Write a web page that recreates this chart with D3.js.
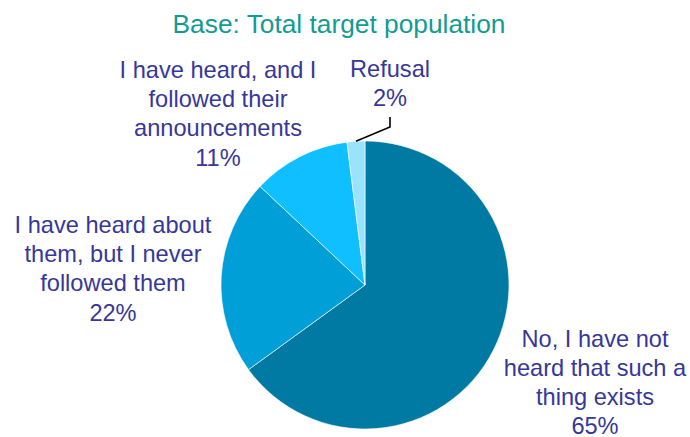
<!DOCTYPE html>
<html>
<head>
<meta charset="utf-8">
<script src="https://cdn.jsdelivr.net/npm/d3@7"></script>
<style>
  html, body { margin: 0; padding: 0; background: #fff; }
  svg { display: block; font-family: "Liberation Sans", Arial, sans-serif; }
</style>
</head>
<body>
<svg id="chart" width="690" height="437"></svg>
<script>
// Survey answers, clockwise from 12 o'clock
const categories = [
  "No, I have not heard that such a thing exists",
  "I have heard about them, but I never followed them",
  "I have heard, and I followed their announcements",
  "Refusal"
];
const values = [65, 22, 11, 2];
const colors = ["#0079A3", "#009FD7", "#10BFFF", "#99E3FF"];
// Wrapped label lines for each slice
const labelLines = [
  ["No, I have not", "heard that such a", "thing exists"],
  ["I have heard about", "them, but I never", "followed them"],
  ["I have heard, and I", "followed their", "announcements"],
  ["Refusal"]
];
const title = "Base: Total target population";

const svg = d3.select("#chart");
const cx = 365, cy = 285, radius = 144;
const lineH = 29.2;

svg.append("text")
  .attr("x", 339).attr("y", 33)
  .attr("text-anchor", "middle")
  .attr("fill", "#139B93")
  .attr("font-size", 26.3)
  .text(title);

const data = categories.map((c, i) => ({ name: c, value: values[i], color: colors[i], lines: labelLines[i] }));
const pie = d3.pie().sort(null).value(d => d.value);
const arcs = pie(data);
const arc = d3.arc().innerRadius(0).outerRadius(radius);

const g = svg.append("g").attr("transform", `translate(${cx},${cy})`);
g.selectAll("path.slice")
  .data(arcs)
  .join("path")
  .attr("class", "slice")
  .attr("d", arc)
  .attr("fill", d => d.data.color)
  .attr("stroke", "#ffffff")
  .attr("stroke-width", 0.6);

// Label anchor points (centre x, first baseline y) in page coordinates
const labelPos = [
  { x: 595, y: 346.5 },
  { x: 113, y: 233 },
  { x: 218, y: 78 },
  { x: 390, y: 77 }
];

const labels = svg.append("g").attr("fill", "#37379A").attr("font-size", 23.6).attr("text-anchor", "middle");
arcs.forEach((a, i) => {
  const p = labelPos[i];
  const t = labels.append("text").attr("x", p.x).attr("y", p.y);
  const lines = a.data.lines.concat([d3.format(".0f")(a.data.value) + "%"]);
  lines.forEach((ln, j) => {
    t.append("tspan").attr("x", p.x).attr("y", p.y + j * lineH).text(ln);
  });
});

// Leader line for the small Refusal slice
const small = arcs[3];
const mid = (small.startAngle + small.endAngle) / 2;
const sx = cx + radius * Math.sin(mid), sy = cy - radius * Math.cos(mid);
const ref = labelPos[3];
svg.append("path")
  .attr("d", d3.line()([[sx, sy], [ref.x, ref.y + 50], [ref.x, ref.y + 40]]))
  .attr("fill", "none")
  .attr("stroke", "#000")
  .attr("stroke-width", 1.6);
</script>
</body>
</html>
